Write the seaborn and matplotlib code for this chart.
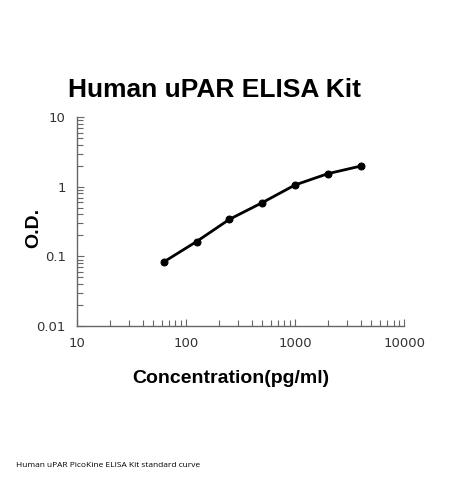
import matplotlib
matplotlib.use("Agg")
import matplotlib.pyplot as plt
import seaborn as sns
import pandas as pd
from matplotlib.ticker import LogLocator, NullFormatter, FixedLocator, FixedFormatter

# Standard curve data
concentration = [62.5, 125, 250, 500, 1000, 2000, 4000]
od = [0.083, 0.163, 0.34, 0.59, 1.06, 1.54, 1.98]
x_ticks = [10, 100, 1000, 10000]
x_tick_labels = ["10", "100", "1000", "10000"]
y_ticks = [0.01, 0.1, 1, 10]
y_tick_labels = ["0.01", "0.1", "1", "10"]

sns.set_theme(style="white")
plt.rcParams["font.family"] = ["DejaVu Sans"]

df = pd.DataFrame({"conc": concentration, "od": od})

fig = plt.figure(figsize=(4.5, 4.8), dpi=100)
ax = fig.add_axes([0.171, 0.321, 0.727, 0.435])

sns.lineplot(data=df, x="conc", y="od", ax=ax, color="black", linewidth=2,
             marker="o", markersize=5, markeredgecolor="black")

ax.set_xscale("log")
ax.set_yscale("log")
ax.set_xlim(10, 10000)
ax.set_ylim(0.01, 10)

ax.xaxis.set_major_locator(FixedLocator(x_ticks))
ax.xaxis.set_major_formatter(FixedFormatter(x_tick_labels))
ax.yaxis.set_major_locator(FixedLocator(y_ticks))
ax.yaxis.set_major_formatter(FixedFormatter(y_tick_labels))
ax.xaxis.set_minor_locator(LogLocator(base=10, subs=range(2, 10)))
ax.yaxis.set_minor_locator(LogLocator(base=10, subs=range(2, 10)))
ax.xaxis.set_minor_formatter(NullFormatter())
ax.yaxis.set_minor_formatter(NullFormatter())

ax.tick_params(axis="both", which="both", direction="in", color="#666666",
               width=0.8, labelsize=9.5, labelcolor="#333333")
ax.tick_params(axis="both", which="major", length=5, pad=8)
ax.tick_params(axis="both", which="minor", length=4)
ax.tick_params(axis="x", which="both", bottom=True, top=False)
ax.tick_params(axis="y", which="both", left=True, right=False)

for side in ["top", "right"]:
    ax.spines[side].set_visible(False)
for side in ["left", "bottom"]:
    ax.spines[side].set_color("#666666")
    ax.spines[side].set_linewidth(1)

ax.set_xlabel("Concentration(pg/ml)", fontsize=14, fontweight="bold",
              family=["Liberation Sans"], color="black")
ax.set_ylabel("O.D.", fontsize=14, fontweight="bold",
              family=["Liberation Sans"], color="black")
ax.xaxis.set_label_coords(0.47, -0.212)
ax.yaxis.set_label_coords(-0.107, 0.47)

fig.text(0.477, 0.812, "Human uPAR ELISA Kit", ha="center", va="center",
         fontsize=19, fontweight="bold", family=["Liberation Sans"],
         color="black")
fig.text(0.035, 0.031, "Human uPAR PicoKine ELISA Kit standard curve",
         ha="left", va="center", fontsize=6, family=["Open Sans"],
         color="black")

fig.savefig("out.png", dpi=100)
